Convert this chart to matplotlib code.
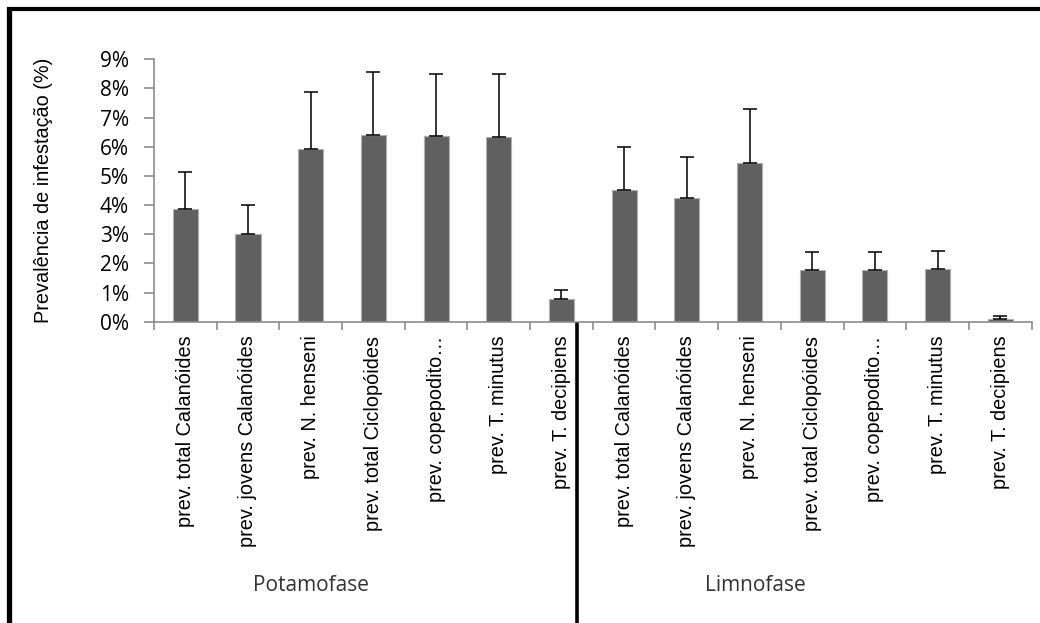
import numpy as np
import matplotlib.pyplot as plt
from matplotlib.lines import Line2D

# category labels (two phases, same seven groups)
labels = ['prev. total Calanóides', 'prev. jovens Calanóides', 'prev. N. henseni',
          'prev. total Ciclopóides', 'prev. copepodito…', 'prev. T. minutus',
          'prev. T. decipiens',
          'prev. total Calanóides', 'prev. jovens Calanóides', 'prev. N. henseni',
          'prev. total Ciclopóides', 'prev. copepodito…', 'prev. T. minutus',
          'prev. T. decipiens']

# prevalence (fraction) and upper error
values = [0.0386, 0.0301, 0.0592, 0.0641, 0.0637, 0.0633, 0.0078,
          0.0451, 0.0426, 0.0546, 0.0177, 0.0177, 0.0181, 0.0011]
errors = [0.0129, 0.0098, 0.0197, 0.0215, 0.0212, 0.0216, 0.0030,
          0.0149, 0.0140, 0.0182, 0.0061, 0.0061, 0.0060, 0.0007]

groups = ['Potamofase', 'Limnofase']
group_pos = [2.0, 9.1]
divider_pos = 6.25

AXIS_GRAY = '#8c8c8c'

fig = plt.figure(figsize=(10.4, 6.23), dpi=100)
ax = fig.add_axes([0.148, 0.4836, 0.844, 0.4212])

x = np.arange(len(values))
ax.bar(x, values, width=0.4, color='#606060', edgecolor='#b0b0b0', linewidth=0.8,
       yerr=[np.zeros(len(errors)), errors], capsize=5,
       error_kw=dict(ecolor='black', elinewidth=1.1, capthick=1.1))

ax.set_xlim(-0.5, len(values) - 0.5)
ax.set_ylim(0, 0.09)
ax.set_yticks(np.arange(0, 0.091, 0.01))
ax.set_yticklabels([f'{i}%' for i in range(10)], fontfamily='Open Sans', fontsize=15)

# ticks at category boundaries, labels at centres
ax.set_xticks(np.arange(-0.5, len(values)), minor=False)
ax.set_xticklabels([])
ax.set_xticks(x, minor=True)
ax.set_xticklabels(labels, minor=True, rotation=90, va='top', ha='center',
                   fontfamily='Liberation Sans', fontsize=14.3)
ax.tick_params(axis='x', which='minor', length=0, pad=10)
ax.tick_params(axis='x', which='major', length=6, color=AXIS_GRAY, width=1.2)
ax.tick_params(axis='y', length=7, color=AXIS_GRAY, width=1.2, pad=11)

for s in ['top', 'right']:
    ax.spines[s].set_visible(False)
for s in ['left', 'bottom']:
    ax.spines[s].set_color(AXIS_GRAY)
    ax.spines[s].set_linewidth(1.2)

ax.set_ylabel('Prevalência de infestação (%)', fontfamily='Liberation Sans', fontsize=14.3)
ax.yaxis.set_label_coords(-0.115, 0.5)

# phase labels and divider below the axis
trans = ax.get_xaxis_transform()
for name, pos in zip(groups, group_pos):
    ax.text(pos, -1.006, name, transform=trans, ha='center', va='center',
            fontfamily='Open Sans', fontsize=15, color='#333333')
ax.plot([divider_pos, divider_pos], [0, -1.2], transform=trans, color='black',
        linewidth=2.6, clip_on=False, solid_capstyle='butt')

# black frame lines at top and left of the picture
fig.add_artist(Line2D([0.0091, 0.0091], [0, 1 - 0.0112], color='black', linewidth=3.8,
                      solid_capstyle='butt'))
fig.add_artist(Line2D([0.0067, 1.0], [1 - 0.0145, 1 - 0.0145], color='black', linewidth=3.0,
                      solid_capstyle='butt'))

plt.savefig('out.png', dpi=100)
